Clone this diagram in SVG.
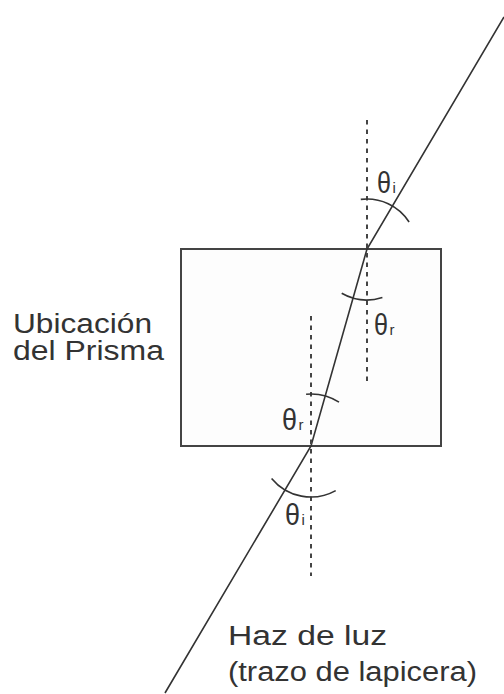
<svg xmlns="http://www.w3.org/2000/svg" width="504" height="694" viewBox="0 0 504 694">
<style>
.txt{font-family:"Liberation Sans",Arial,sans-serif;fill:#333;}
.lbl{font-size:27px;}
.th{font-size:30px;}
.sub{font-size:15px;}
.ray{fill:none;stroke:#333;stroke-width:1.6;}
.normal{fill:none;stroke:#444;stroke-width:2;stroke-dasharray:4.5 5;}
.arc{fill:none;stroke:#333;stroke-width:1.6;}
</style>
<rect width="504" height="694" fill="#ffffff"/>
<g id="prism">
<rect x="181" y="249" width="260" height="197" fill="#fdfdfd" stroke="#444" stroke-width="2"/>
</g>
<g id="label-prism">
<text class="txt lbl" x="13" y="333" textLength="139" lengthAdjust="spacingAndGlyphs">Ubicación</text>
<text class="txt lbl" x="13" y="360" textLength="151" lengthAdjust="spacingAndGlyphs">del Prisma</text>
</g>
<g id="label-beam">
<text class="txt lbl" x="228" y="645" textLength="159" lengthAdjust="spacingAndGlyphs">Haz de luz</text>
<text class="txt lbl" x="228" y="681" textLength="249" lengthAdjust="spacingAndGlyphs">(trazo de lapicera)</text>
</g>
<g id="connectors">
<polyline class="ray" points="504,17 367,249 311,446 165,693"/>
<line class="normal" x1="367" y1="120" x2="367" y2="381"/>
<line class="normal" x1="311" y1="316" x2="311" y2="576"/>
</g>
<g id="angle-i-top">
<path class="arc" d="M360.8 199.4 A50 50 0 0 1 409.1 222"/>
<text class="txt th" x="377" y="193" textLength="14" lengthAdjust="spacingAndGlyphs">θ</text>
<text class="txt sub" x="392.5" y="193">i</text>
</g>
<g id="angle-r-top">
<path class="arc" d="M341.7 293.3 A51 51 0 0 0 382.4 297.6"/>
<text class="txt th" x="374" y="335" textLength="14" lengthAdjust="spacingAndGlyphs">θ</text>
<text class="txt sub" x="389.5" y="335">r</text>
</g>
<g id="angle-r-bottom">
<path class="arc" d="M306.1 394.2 A52 52 0 0 1 339 402.1"/>
<text class="txt th" x="282" y="430" textLength="15" lengthAdjust="spacingAndGlyphs">θ</text>
<text class="txt sub" x="298.5" y="430">r</text>
</g>
<g id="angle-i-bottom">
<path class="arc" d="M271.6 478.4 A51 51 0 0 0 335.7 490.6"/>
<text class="txt th" x="285" y="525" textLength="15" lengthAdjust="spacingAndGlyphs">θ</text>
<text class="txt sub" x="301.5" y="525">i</text>
</g>
</svg>
